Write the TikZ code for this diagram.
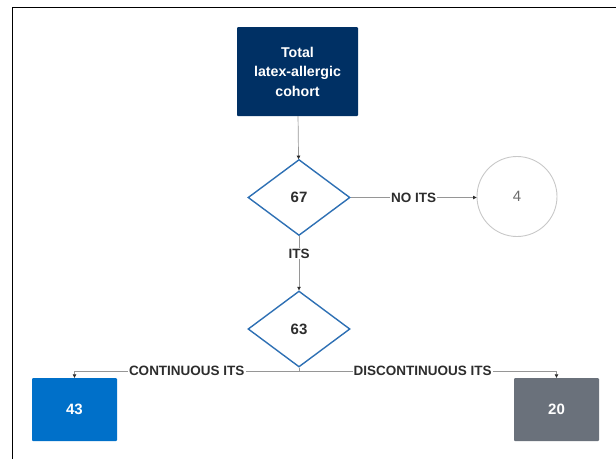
\documentclass[tikz,border=0pt]{standalone}
\usepackage{fontspec}
\setmainfont{Liberation Sans}
\usetikzlibrary{shapes.geometric,arrows.meta}
\definecolor{navy}{RGB}{0,48,100}
\definecolor{diablue}{RGB}{46,112,180}
\definecolor{boxblue}{RGB}{0,112,201}
\definecolor{boxgray}{RGB}{106,113,123}
\definecolor{linegray}{RGB}{150,150,150}
\definecolor{txtdark}{RGB}{45,45,45}
\definecolor{circgray}{RGB}{200,200,200}
\tikzset{
  topbox/.style={draw=none, fill=navy, rounded corners=1pt, minimum width=121pt, minimum height=89pt, text=white, font=\bfseries\fontsize{14.2}{19.5}\selectfont, align=center, inner sep=0pt},
  dia/.style={diamond, draw=diablue, line width=1.4pt, fill=white, minimum width=102pt, minimum height=76pt, inner sep=0pt, text=txtdark, font=\bfseries\fontsize{15}{17}\selectfont},
  circ/.style={circle, draw=circgray, line width=0.9pt, minimum size=80pt, inner sep=0pt, text=gray!85!black, font=\fontsize{15}{17}\selectfont},
  resbox/.style={rounded corners=1pt, minimum width=85pt, minimum height=63pt, text=white, font=\bfseries\fontsize{15}{17}\selectfont, inner sep=0pt},
  conn/.style={draw=linegray, line width=0.7pt, -{Triangle[length=3.5pt,width=3.5pt,fill=txtdark,color=txtdark]}},
  lbl/.style={fill=white, text=txtdark, font=\bfseries\fontsize{13.5}{15}\selectfont, inner sep=1pt}
}
\begin{document}
\begin{tikzpicture}[x=1pt,y=-1pt]
\useasboundingbox (0,0) rectangle (616,459);
\draw[line width=1.3pt] (12.5,459) -- (12.5,7.5) -- (616,7.5);
\node[topbox] (tot) at (297.5,71.5) {Total\\latex-allergic\\cohort};
\node[dia] (d67) at (299,197.5) {67};
\node[circ] (c4) at (517,196.5) {4};
\node[dia] (d63) at (299,329) {63};
\node[resbox, fill=boxblue] (b43) at (74.5,409.5) {43};
\node[resbox, fill=boxgray] (b20) at (556.5,409.5) {20};
\coordinate (j) at (299,371);
\draw[conn] (tot) -- (d67);
\draw[conn] (d67) -- node[lbl] {NO ITS} (d67 -| c4.west);
\draw[conn] (d67) -- node[lbl, pos=0.32] {ITS} (d63);
\draw[linegray, line width=0.7pt] (d63.south) -- (j);
\draw[conn] (j) -| node[lbl, pos=0.25] {CONTINUOUS ITS} (b43.north);
\draw[conn] (j) -| node[lbl, pos=0.24] {DISCONTINUOUS ITS} (b20.north);
\end{tikzpicture}
\end{document}
